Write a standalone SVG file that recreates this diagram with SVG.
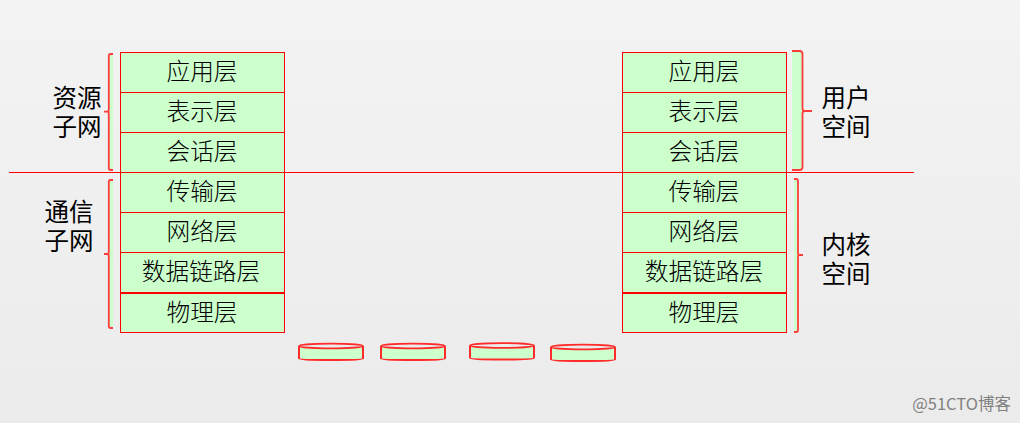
<svg xmlns="http://www.w3.org/2000/svg" width="1020" height="423" viewBox="0 0 1020 423">
<style>
.box{fill:#ccffcc;stroke:#ff0000;stroke-width:1}
.t{font-family:"Noto Sans CJK SC","Liberation Sans",sans-serif;font-size:23.700px;font-weight:300;fill:#000;text-anchor:middle}
.l{font-family:"Noto Sans CJK SC","Liberation Sans",sans-serif;font-size:24.500px;fill:#000;text-anchor:middle}
.br{fill:none;stroke:#ff3c3c;stroke-width:1.800}
.g{fill:#ccffcc;stroke:none}
.d{fill:#ccffcc;stroke:#ff2a2a;stroke-width:2}
.e{fill:#ececec;stroke:#ff2a2a;stroke-width:1.700}
</style>
<defs>
<linearGradient id="bg" x1="0" y1="0" x2="0" y2="1"><stop offset="0" stop-color="#f3f3f3"/><stop offset="1" stop-color="#ebebeb"/></linearGradient>
<g id="disk"><path class="d" d="M0 3V15.500Q0 17 32 17T64 15.500V3"/><ellipse class="e" cx="32" cy="3" rx="32" ry="2.400"/></g>
</defs>
<rect width="1020" height="423" fill="url(#bg)"/>
<g id="stack-left">
<g id="l-app"><rect class="box" x="120.500" y="52.500" width="164" height="40"/><text class="t" x="202" y="80">应用层</text></g>
<g id="l-pres"><rect class="box" x="120.500" y="92.500" width="164" height="40"/><text class="t" x="202" y="120">表示层</text></g>
<g id="l-sess"><rect class="box" x="120.500" y="132.500" width="164" height="40"/><text class="t" x="202" y="160">会话层</text></g>
<g id="l-trans"><rect class="box" x="120.500" y="172.500" width="164" height="40"/><text class="t" x="202" y="200">传输层</text></g>
<g id="l-net"><rect class="box" x="120.500" y="212.500" width="164" height="40"/><text class="t" x="202" y="240">网络层</text></g>
<g id="l-link"><rect class="box" x="120.500" y="252.500" width="164" height="40"/><text class="t" x="201" y="280">数据链路层</text></g>
<g id="l-phy"><rect class="box" x="120.500" y="293.500" width="164" height="39"/><text class="t" x="202" y="321">物理层</text></g>
</g>
<g id="stack-right">
<g id="r-app"><rect class="box" x="622.500" y="52.500" width="164" height="40"/><text class="t" x="704" y="80">应用层</text></g>
<g id="r-pres"><rect class="box" x="622.500" y="92.500" width="164" height="40"/><text class="t" x="704" y="120">表示层</text></g>
<g id="r-sess"><rect class="box" x="622.500" y="132.500" width="164" height="40"/><text class="t" x="704" y="160">会话层</text></g>
<g id="r-trans"><rect class="box" x="622.500" y="172.500" width="164" height="40"/><text class="t" x="704" y="200">传输层</text></g>
<g id="r-net"><rect class="box" x="622.500" y="212.500" width="164" height="40"/><text class="t" x="704" y="240">网络层</text></g>
<g id="r-link"><rect class="box" x="622.500" y="252.500" width="164" height="40"/><text class="t" x="704" y="280">数据链路层</text></g>
<g id="r-phy"><rect class="box" x="622.500" y="293.500" width="164" height="39"/><text class="t" x="704" y="321">物理层</text></g>
</g>
<g id="connectors">
<line x1="9" y1="172.500" x2="914" y2="172.500" stroke="#ff0000" stroke-width="1"/>
<path class="g" d="M109 54H113V170H109Z"/>
<path class="br" d="M113 54H110.500Q108.800 54 108.800 56V109.700Q108.800 111.700 107 111.700H104M107 111.700Q108.800 111.700 108.800 113.700V168Q108.800 170 110.500 170H113"/>
<path class="g" d="M109 180H113V328H109Z"/>
<path class="br" d="M113 180H110.500Q108.800 180 108.800 182V252Q108.800 254 107 254H104M107 254Q108.800 254 108.800 256V326Q108.800 328 110.500 328H113"/>
<path class="g" d="M792 51H802V170H792Z"/>
<path class="br" d="M792 51H799.500Q802.500 51 802.500 54V108Q802.500 111 804.500 111H812M804.500 111Q802.500 111 802.500 114V167Q802.500 170 799.500 170H792"/>
<path class="g" d="M794 179H798V332H794Z"/>
<path class="br" d="M794 179H796Q798 179 798 181V253Q798 255 799.500 255H803M799.500 255Q798 255 798 257V330Q798 332 796 332H794"/>
</g>
<g id="label-res"><text class="l" x="77" y="107">资源<tspan x="77" dy="29">子网</tspan></text></g>
<g id="label-comm"><text class="l" x="69" y="221">通信<tspan x="69" dy="29">子网</tspan></text></g>
<g id="label-user"><text class="l" x="846" y="107">用户<tspan x="846" dy="29">空间</tspan></text></g>
<g id="label-kernel"><text class="l" x="846" y="254">内核<tspan x="846" dy="29">空间</tspan></text></g>
<g id="disks">
<use id="disk1" href="#disk" x="299" y="343"/>
<use id="disk2" href="#disk" x="381" y="343"/>
<use id="disk3" href="#disk" x="470" y="342.500"/>
<use id="disk4" href="#disk" x="551" y="344"/>
</g>
<text id="watermark" x="1011" y="410" text-anchor="end" font-family="'Noto Sans CJK SC','Liberation Sans',sans-serif" font-size="16.500" fill="#808080">@51CTO博客</text>
</svg>
